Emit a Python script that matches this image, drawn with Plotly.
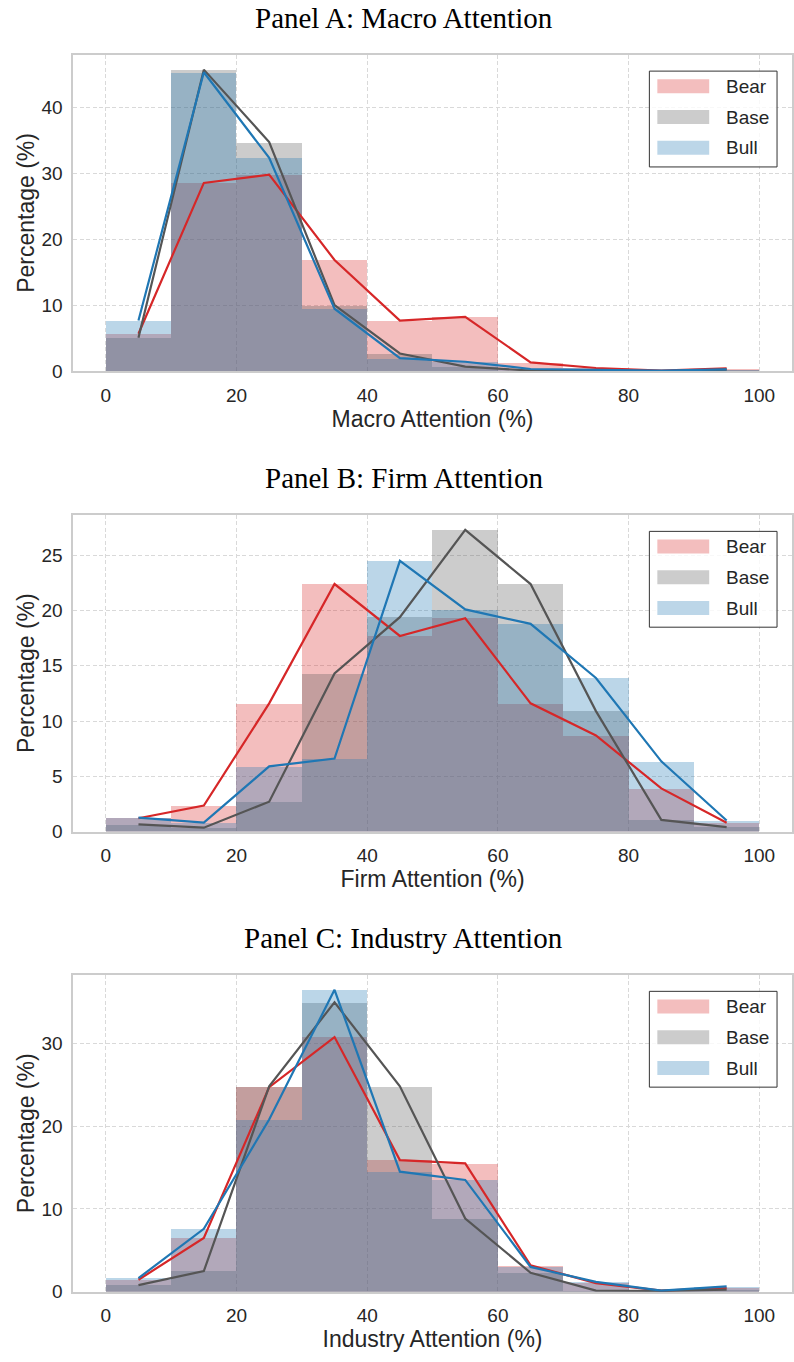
import plotly.graph_objects as go
from plotly.subplots import make_subplots

W, H = 794, 1362

bin_centers = [5, 15, 25, 35, 45, 55, 65, 75, 85, 95]
bin_width = 10
x_ticks = [0, 20, 40, 60, 80, 100]

series_names = ["Bear", "Base", "Bull"]

macro_bear = [5.7, 28.6, 29.85, 16.9, 7.7, 8.25, 1.36, 0.5, 0.1, 0.45]
macro_base = [5.1, 45.8, 34.8, 10.05, 2.7, 0.7, 0.1, 0.05, 0.0, 0.25]
macro_bull = [7.7, 45.4, 32.4, 9.5, 2.0, 1.45, 0.35, 0.2, 0.1, 0.3]

firm_bear = [1.2, 2.35, 11.6, 22.4, 17.7, 19.3, 11.6, 8.7, 3.9, 0.8]
firm_base = [0.65, 0.35, 2.7, 14.3, 19.4, 27.3, 22.4, 10.9, 1.05, 0.4]
firm_bull = [1.25, 0.8, 5.9, 6.6, 24.5, 20.1, 18.8, 13.9, 6.35, 1.0]

industry_bear = [1.45, 6.5, 24.7, 30.75, 15.9, 15.5, 3.2, 1.05, 0.15, 0.45]
industry_base = [0.8, 2.5, 24.8, 34.95, 24.8, 8.85, 2.3, 0.15, 0.1, 0.25]
industry_bull = [1.65, 7.6, 20.8, 36.45, 14.5, 13.5, 3.0, 1.2, 0.15, 0.65]

panel_titles = ["Panel A: Macro Attention", "Panel B: Firm Attention", "Panel C: Industry Attention"]
x_titles = ["Macro Attention (%)", "Firm Attention (%)", "Industry Attention (%)"]
y_title = "Percentage (%)"
y_dticks = [10, 5, 10]

panels = [
    (macro_bear, macro_base, macro_bull),
    (firm_bear, firm_base, firm_bull),
    (industry_bear, industry_base, industry_bull),
]

line_colors = ["#d62728", "#555555", "#1f77b4"]
bar_colors = ["rgba(214,39,40,0.3)", "rgba(85,85,85,0.3)", "rgba(31,119,180,0.3)"]
legend_patch = ["#f3bebe", "#cccccc", "#bcd6e8"]

# axes pixel boxes (top, bottom)
boxes = [(55.0, 374.3), (519.0, 838.3), (982.7, 1302.3)]
x_left, x_right = 73.3, 794.0

SANS = "Liberation Sans, Arial, sans-serif"
SERIF = "Liberation Serif, Times New Roman, serif"
TXT = "#262626"
GRID_DASH = "4px,2.5px"

def py(p):
    return 1 - p / H

def pxx(p):
    return p / W

fig = make_subplots(rows=3, cols=1)

for i, data in enumerate(panels):
    r = i + 1
    for name, vals, bc in zip(series_names, data, bar_colors):
        fig.add_trace(go.Bar(x=bin_centers, y=vals, width=bin_width, marker=dict(color=bc, line=dict(width=0)),
                             name=name, showlegend=False), row=r, col=1)
    for name, vals, lc in zip(series_names, data, line_colors):
        fig.add_trace(go.Scatter(x=bin_centers, y=vals, mode="lines", line=dict(color=lc, width=2.2),
                                 name=name, showlegend=False), row=r, col=1)

    top, bot = boxes[i]
    ymax = max(max(s) for s in data) * 1.05
    xa = "xaxis" if r == 1 else f"xaxis{r}"
    ya = "yaxis" if r == 1 else f"yaxis{r}"
    fig.layout[xa].update(
        domain=[pxx(x_left), pxx(x_right)], range=[-5, 105], tickvals=x_ticks,
        showgrid=True, gridcolor="#d9d9d9", griddash=GRID_DASH, gridwidth=1,
        zeroline=False, showline=True, mirror=True, linecolor="#cccccc", linewidth=1.5,
        ticks="", ticklabelstandoff=6, tickfont=dict(family=SANS, size=19, color=TXT),
        title=dict(text=x_titles[i], font=dict(family=SANS, size=23, color=TXT), standoff=4),
    )
    fig.layout[ya].update(
        domain=[py(bot), py(top)], range=[0, ymax], dtick=y_dticks[i], tick0=0,
        showgrid=True, gridcolor="#d9d9d9", griddash=GRID_DASH, gridwidth=1,
        zeroline=False, showline=True, mirror=True, linecolor="#cccccc", linewidth=1.5,
        ticks="", ticklabelstandoff=5, tickfont=dict(family=SANS, size=19, color=TXT),
        title=dict(text=y_title, font=dict(family=SANS, size=23, color=TXT), standoff=0),
    )

    # panel title
    fig.add_annotation(text=panel_titles[i], xref="paper", yref="paper", x=pxx(405), y=py(top - 37),
                       xanchor="center", yanchor="middle", showarrow=False,
                       font=dict(family=SERIF, size=29, color="#000000"))

    # legend box
    fig.add_shape(type="rect", xref="paper", yref="paper",
                  x0=pxx(651), x1=pxx(779), y0=py(top + 16.7), y1=py(top + 113.3),
                  line=dict(color="#333333", width=1), fillcolor="rgba(255,255,255,0.8)", layer="above")
    for k, name in enumerate(series_names):
        cy = top + 32 + 31 * k
        fig.add_shape(type="rect", xref="paper", yref="paper",
                      x0=pxx(659), x1=pxx(711), y0=py(cy + 7), y1=py(cy - 7),
                      line=dict(width=0), fillcolor=legend_patch[k], layer="above")
        fig.add_annotation(text=name, xref="paper", yref="paper", x=pxx(726), y=py(cy),
                           xanchor="left", yanchor="middle", showarrow=False,
                           font=dict(family=SANS, size=19, color=TXT))

fig.update_layout(
    width=W, height=H, margin=dict(l=0, r=0, t=0, b=0),
    paper_bgcolor="white", plot_bgcolor="white", barmode="overlay", bargap=0,
    showlegend=False,
)

fig.write_html("out.html")
